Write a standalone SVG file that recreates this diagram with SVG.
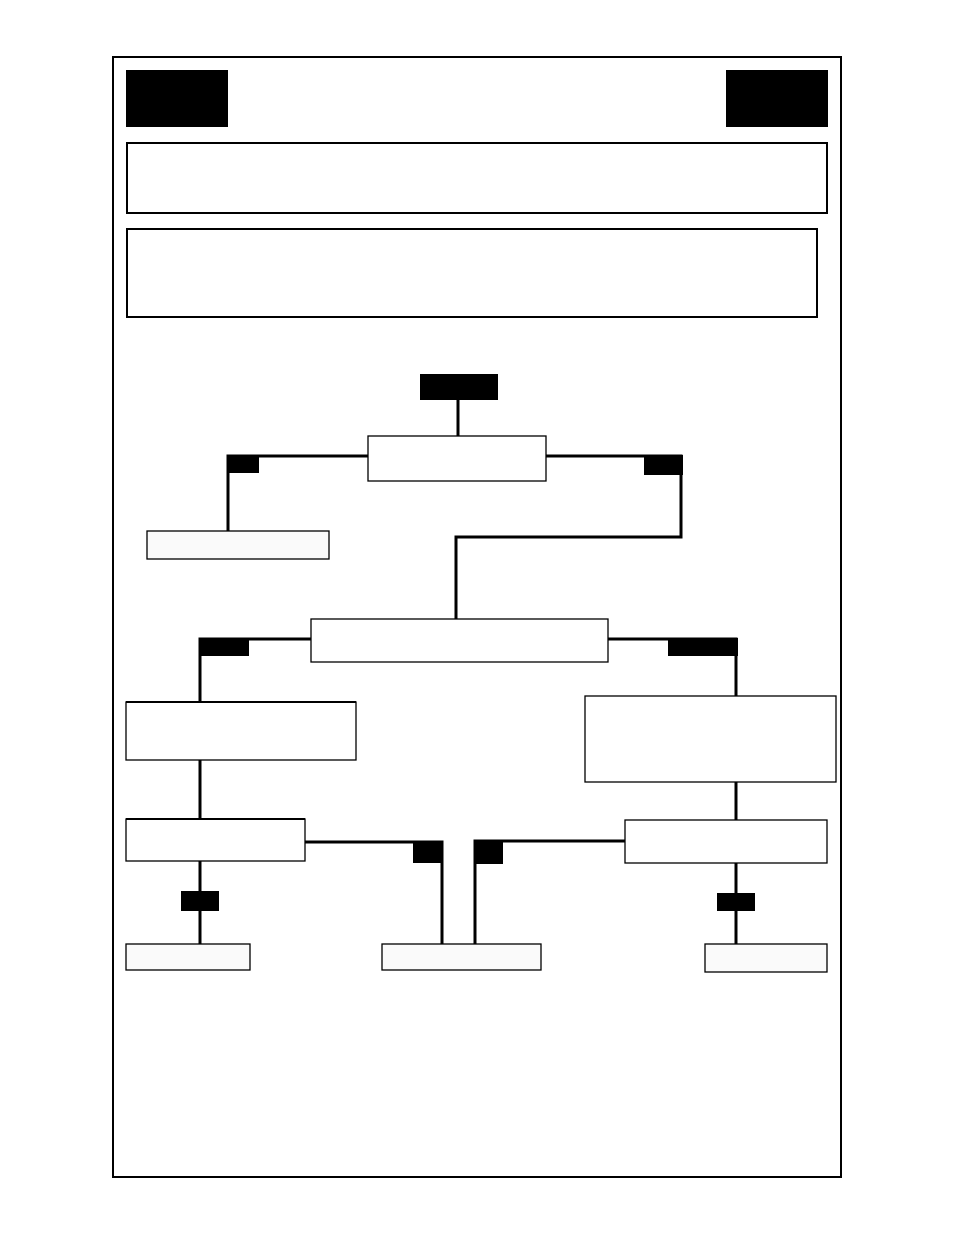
<svg xmlns="http://www.w3.org/2000/svg" width="954" height="1235" viewBox="0 0 954 1235">
<style>
.box{fill:#ffffff;stroke:#000000;stroke-width:1.3}
.leaf{fill:#fafafa;stroke:#000000;stroke-width:1.3}
.thick{fill:#ffffff;stroke:#000000;stroke-width:2}
.tag{fill:#000000}
.ln{fill:none;stroke:#000000;stroke-width:3}
</style>
<rect width="954" height="1235" fill="#ffffff"/>
<rect x="113" y="57" width="728" height="1120" fill="none" stroke="#000" stroke-width="2"/>
<g id="corner-left"><rect class="tag" x="126" y="70" width="102" height="57"/></g>
<g id="corner-right"><rect class="tag" x="726" y="70" width="102" height="57"/></g>
<g id="header1"><rect class="thick" x="127" y="143" width="700" height="70"/></g>
<g id="header2"><rect class="thick" x="127" y="229" width="690" height="88"/></g>
<g id="connectors">
<path class="ln" d="M458,400 V437"/>
<path class="ln" d="M368,456 H228 V531"/>
<path class="ln" d="M546,456 H681 V537 H456 V619"/>
<path class="ln" d="M311,639 H200 V702"/>
<path class="ln" d="M608,639 H736 V696"/>
<path class="ln" d="M200,760 V819"/>
<path class="ln" d="M736,782 V820"/>
<path class="ln" d="M305,842 H442 V944"/>
<path class="ln" d="M625,841 H475 V944"/>
<path class="ln" d="M200,861 V944"/>
<path class="ln" d="M736,863 V944"/>
<rect class="tag" x="227" y="455" width="32" height="18"/>
<rect class="tag" x="644" y="455" width="39" height="20"/>
<rect class="tag" x="199" y="638" width="50" height="18"/>
<rect class="tag" x="668" y="638" width="70" height="18"/>
<rect class="tag" x="413" y="841" width="30" height="22"/>
<rect class="tag" x="474" y="840" width="29" height="24"/>
<rect class="tag" x="181" y="891" width="38" height="20"/>
<rect class="tag" x="717" y="893" width="38" height="18"/>
</g>
<g id="start"><rect class="tag" x="420" y="374" width="78" height="26"/></g>
<g id="nodeA"><rect class="box" x="368" y="436" width="178" height="45"/></g>
<g id="leaf1"><rect class="leaf" x="147" y="531" width="182" height="28"/></g>
<g id="nodeB"><rect class="box" x="311" y="619" width="297" height="43"/></g>
<g id="nodeC"><rect class="box" x="126" y="702" width="230" height="58"/><line x1="126" y1="702" x2="356" y2="702" stroke="#000" stroke-width="2"/></g>
<g id="nodeD"><rect class="box" x="585" y="696" width="251" height="86"/></g>
<g id="nodeE"><rect class="box" x="126" y="819" width="179" height="42"/><line x1="126" y1="819" x2="305" y2="819" stroke="#000" stroke-width="2"/></g>
<g id="nodeF"><rect class="box" x="625" y="820" width="202" height="43"/></g>
<g id="leaf2"><rect class="leaf" x="126" y="944" width="124" height="26"/></g>
<g id="leaf3"><rect class="leaf" x="382" y="944" width="159" height="26"/></g>
<g id="leaf4"><rect class="leaf" x="705" y="944" width="122" height="28"/></g>
</svg>
